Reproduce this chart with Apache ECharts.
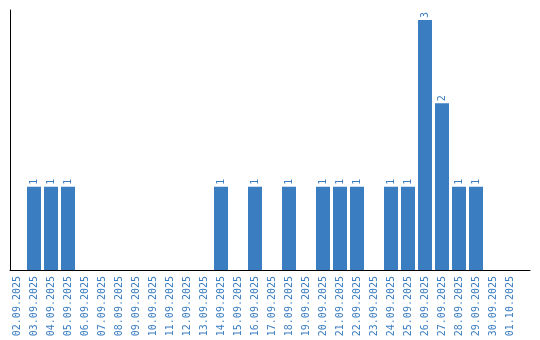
<!DOCTYPE html>
<html><head><meta charset="utf-8">
<script src="https://cdn.jsdelivr.net/npm/echarts@6/dist/echarts.min.js"></script>
<style>html,body{margin:0;padding:0;background:#fff}#c{width:540px;height:340px}</style>
</head><body><div id="c"></div>
<script>
const categories = ["02.09.2025","03.09.2025","04.09.2025","05.09.2025","06.09.2025","07.09.2025","08.09.2025","09.09.2025","10.09.2025","11.09.2025","12.09.2025","13.09.2025","14.09.2025","15.09.2025","16.09.2025","17.09.2025","18.09.2025","19.09.2025","20.09.2025","21.09.2025","22.09.2025","23.09.2025","24.09.2025","25.09.2025","26.09.2025","27.09.2025","28.09.2025","29.09.2025","30.09.2025","01.10.2025"];
const values = [0,1,1,1,0,0,0,0,0,0,0,0,1,0,1,0,1,0,1,1,1,0,1,1,3,2,1,1,0,0];
const blue = '#3a7dc1';
const font = 'DejaVu Sans Mono';
const chart = echarts.init(document.getElementById('c'));
chart.setOption({
  animation: false,
  grid: [
    {left: 8.5, width: 510, top: 10, height: 260},
    {left: 10, width: 520, top: 10, height: 260}
  ],
  xAxis: [
    {type: 'category', gridIndex: 0, data: categories,
     axisLine: {show: false}, axisTick: {show: false},
     axisLabel: {rotate: 90, interval: 0, margin: 6, color: blue, fontFamily: font, fontSize: 10}},
    {type: 'value', gridIndex: 1, min: 0, max: 1,
     axisLine: {show: true, lineStyle: {color: '#000', width: 1}}, axisTick: {show: false},
     axisLabel: {show: false}, splitLine: {show: false}}
  ],
  yAxis: [
    {type: 'value', gridIndex: 0, min: 0, max: 3.12,
     axisLine: {show: false}, axisTick: {show: false}, axisLabel: {show: false}, splitLine: {show: false}},
    {type: 'value', gridIndex: 1, min: 0, max: 1,
     axisLine: {show: true, lineStyle: {color: '#000', width: 1}}, axisTick: {show: false},
     axisLabel: {show: false}, splitLine: {show: false}}
  ],
  series: [{
    type: 'bar', xAxisIndex: 0, yAxisIndex: 0, data: values, barWidth: 14,
    itemStyle: {color: blue},
    label: {show: true, position: 'top', rotate: 90, align: 'left', verticalAlign: 'middle',
      distance: 2, color: blue, fontFamily: font, fontSize: 10,
      formatter: p => p.value ? String(p.value) : ''}
  }]
});
</script></body></html>
